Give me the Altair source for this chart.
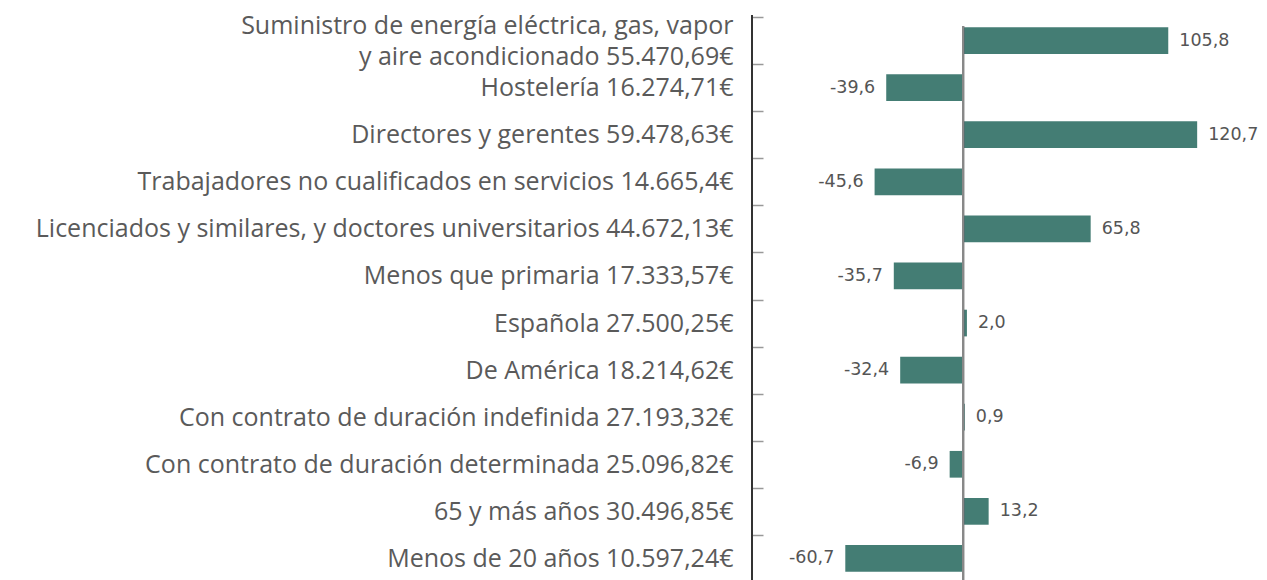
import altair as alt
import pandas as pd

categories = [
    "Suministro de energía eléctrica, gas, vapor\u00a0|y aire acondicionado 55.470,69€",
    "Hostelería 16.274,71€",
    "Directores y gerentes 59.478,63€",
    "Trabajadores no cualificados en servicios 14.665,4€",
    "Licenciados y similares, y doctores universitarios 44.672,13€",
    "Menos que primaria 17.333,57€",
    "Española 27.500,25€",
    "De América 18.214,62€",
    "Con contrato de duración indefinida 27.193,32€",
    "Con contrato de duración determinada 25.096,82€",
    "65 y más años 30.496,85€",
    "Menos de 20 años 10.597,24€",
]
values = [105.8, -39.6, 120.7, -45.6, 65.8, -35.7, 2.0, -32.4, 0.9, -6.9, 13.2, -60.7]

df = pd.DataFrame({"cat": categories, "v": values})

W, H = 502, 565
FONT = "Open Sans"
VFONT = "DejaVu Sans"
BAR = "#447d74"

base = alt.Chart(df).transform_calculate(
    lbl="(datum.v < 0 ? '-' : '') + replace(format(abs(datum.v), '.1f'), '.', ',')"
)

xscale = alt.Scale(domain=[-108.8, 150], nice=False, zero=False)
yenc = alt.Y(
    "cat:N",
    sort=categories,
    scale=alt.Scale(paddingInner=0, paddingOuter=0),
    axis=alt.Axis(
        title=None,
        domain=False,
        offset=-11,
        tickSize=11,
        tickBand="extent",
        tickColor="#999999",
        tickWidth=1.5,
        labelPadding=19,
        labelFont=FONT,
        labelFontSize=25,
        labelColor="#5a5a5a",
        labelLineHeight=31,
        labelLimit=0,
        labelOffset={"condition": {"test": "indexof(datum.label, '|') >= 0", "value": -15.5}, "value": 0},
        labelExpr="split(datum.label, '|')",
    ),
)

bars = base.mark_bar(color=BAR, height={"band": 0.567}).encode(
    x=alt.X("v:Q", scale=xscale, axis=None),
    y=yenc,
)

pos = base.transform_filter("datum.v >= 0").mark_text(
    align="left", baseline="middle", dx=11, font=VFONT, fontSize=17.5, color="#555555"
).encode(x=alt.X("v:Q", scale=xscale), y=alt.Y("cat:N", sort=categories), text="lbl:N")

neg = base.transform_filter("datum.v < 0").mark_text(
    align="right", baseline="middle", dx=-11, font=VFONT, fontSize=17.5, color="#555555"
).encode(x=alt.X("v:Q", scale=xscale), y=alt.Y("cat:N", sort=categories), text="lbl:N")

zero = alt.Chart(df).mark_rule(color="#888888", strokeWidth=2, opacity=0.85).encode(
    x=alt.datum(0), y=alt.value(9), y2=alt.value(H)
)

domain = alt.Chart(df).mark_rule(color="#333333", strokeWidth=2).encode(
    x=alt.value(0), y=alt.value(-2), y2=alt.value(H)
)

chart = (
    alt.layer(bars, zero, pos, neg, domain)
    .properties(
        width=W,
        height=H,
        autosize=alt.AutoSizeParams(type="none"),
        padding={"left": 752, "top": 17, "right": 13, "bottom": 0},
    )
    .configure_view(stroke=None)
)

chart.save("out.html", embed_options={"renderer": "svg", "actions": False})
